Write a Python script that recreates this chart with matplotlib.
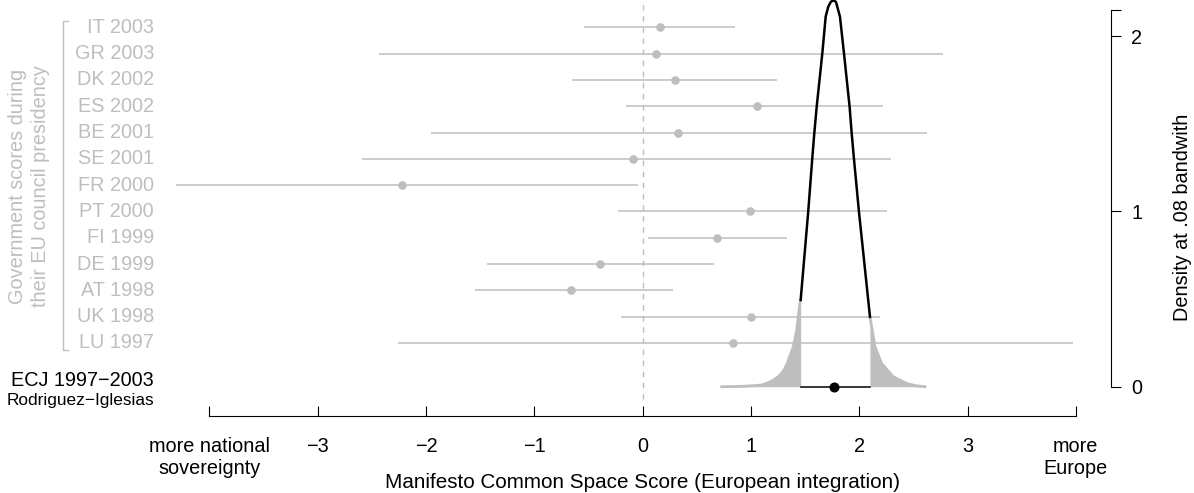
import numpy as np
import matplotlib
matplotlib.use("Agg")
import matplotlib.pyplot as plt

plt.rcParams['font.family'] = ['Liberation Sans', 'DejaVu Sans']

## Government positions during their EU council presidency (bottom row first)
labels = ["LU 1997", "UK 1998", "AT 1998", "DE 1999", "FI 1999", "PT 2000", "FR 2000",
          "SE 2001", "BE 2001", "ES 2002", "DK 2002", "GR 2003", "IT 2003"]
est = [0.835, 1.00, -0.66, -0.39, 0.69, 0.99, -2.22, -0.085, 0.33, 1.055, 0.30, 0.127, 0.16]
lo = [-2.26, -0.20, -1.55, -1.44, 0.05, -0.23, -4.31, -2.59, -1.955, -0.15, -0.65, -2.43, -0.54]
hi = [3.97, 2.19, 0.28, 0.655, 1.335, 2.26, -0.045, 2.29, 2.63, 2.22, 1.24, 2.77, 0.85]

## ECJ (Rodriguez-Iglesias) estimate and interval
ecj_est = 1.763
ecj_lo = 1.459
ecj_hi = 2.099

## density curve
dens_x = [0.73, 0.95, 1.10, 1.145, 1.20, 1.252, 1.30, 1.335, 1.391, 1.422, 1.45, 1.459,
          1.529, 1.566, 1.585, 1.607, 1.659, 1.690, 1.714, 1.737, 1.762, 1.785, 1.797,
          1.822, 1.859, 1.911, 1.930, 1.951, 1.997, 2.099, 2.145, 2.207, 2.314, 2.438,
          2.52, 2.607]
dens_y = [0.0, 0.003, 0.01, 0.019, 0.035, 0.057, 0.09, 0.133, 0.228, 0.323, 0.47, 0.495,
          1.0, 1.301, 1.446, 1.597, 1.902, 2.111, 2.168, 2.195, 2.205, 2.195, 2.168,
          2.111, 1.902, 1.597, 1.446, 1.301, 1.0, 0.399, 0.228, 0.133, 0.057, 0.019,
          0.006, 0.0]

xtick_pos = [-4, -3, -2, -1, 0, 1, 2, 3, 4]
xtick_lab = ["more national\nsovereignty", "\u22123", "\u22122", "\u22121", "0", "1", "2", "3",
             "more\nEurope"]
ytick_pos = [0, 1, 2, 2.15]
ytick_lab = ["0", "1", "2", ""]

GRAY = "#BEBEBE"
FS = 14.3

fig = plt.figure(figsize=(11.94, 4.93), dpi=100)
ax = fig.add_axes([0, 0, 1, 1])
ax.set_xlim(-5.934, 5.091)
ax.set_ylim(-0.606, 2.206)
ax.patch.set_visible(False)

## rows
rows = 0.25 + 0.15 * np.arange(len(labels))
ax.axvline(0, ymin=0.19, ymax=1, color=GRAY, lw=1, ls=(0, (4, 4)))
ax.hlines(rows, lo, hi, color=GRAY, lw=1.1)
ax.plot(est, rows, 'o', color=GRAY, ms=6.2, mec='none')
for lab, yy in zip(labels, rows):
    ax.text(-4.512, yy, lab, ha='right', va='center', color=GRAY, fontsize=FS)

## bracket + group title
ax.plot([-5.306, -5.349, -5.349, -5.306], [2.088, 2.088, 0.209, 0.209], color=GRAY, lw=1)
ax.text(-5.665, 1.145, "Government scores during\ntheir EU council presidency",
        rotation=90, ha='center', va='center', color=GRAY, fontsize=FS,
        multialignment='center', linespacing=1.25)

## ECJ density
dx = np.array(dens_x)
dy = np.array(dens_y)
left = dx <= ecj_lo
right = dx >= ecj_hi
mid = (dx >= ecj_lo) & (dx <= ecj_hi)
ax.fill_between(dx[left], 0, dy[left], color=GRAY, lw=0)
ax.fill_between(dx[right], 0, dy[right], color=GRAY, lw=0)
ax.plot(dx[left], dy[left], color=GRAY, lw=2)
ax.plot(dx[right], dy[right], color=GRAY, lw=2)
ax.plot(dx[mid], dy[mid], color='black', lw=1.8)
ax.plot([ecj_lo, ecj_hi], [0, 0], color='black', lw=1.1)
ax.plot([ecj_est], [0], 'o', color='black', ms=6.2)

ax.text(-4.512, 0.033, "ECJ 1997\u22122003", ha='right', va='center', fontsize=FS)
ax.text(-4.512, -0.076, "Rodriguez\u2212Iglesias", ha='right', va='center', fontsize=12.4)

## axes
ax.spines['top'].set_visible(False)
ax.spines['left'].set_visible(False)
ax.spines['bottom'].set_position(('data', -0.165))
ax.spines['bottom'].set_bounds(-4, 4)
ax.spines['right'].set_position(('data', 4.324))
ax.spines['right'].set_bounds(0, 2.15)
ax.spines['bottom'].set_linewidth(0.8)
ax.spines['right'].set_linewidth(0.8)

ax.set_xticks(xtick_pos)
ax.set_xticklabels(xtick_lab)
ax.tick_params(axis='x', direction='in', length=7.2, width=0.8, pad=15, labelsize=FS)
ax.yaxis.tick_right()
ax.set_yticks(ytick_pos)
ax.set_yticklabels(ytick_lab)
ax.tick_params(axis='y', direction='out', length=7.5, width=0.8, pad=7, labelsize=FS)

ax.set_xlabel("Manifesto Common Space Score (European integration)", fontsize=14.9)
ax.xaxis.set_label_coords(0.538, 0.0203)
ax.xaxis.label.set_va('center')
ax.set_ylabel("Density at .08 bandwith", fontsize=FS)
ax.yaxis.set_label_position('right')
ax.yaxis.set_label_coords(0.99, 0.56)
ax.yaxis.label.set_rotation(90)
ax.yaxis.label.set_va('center')
ax.yaxis.label.set_ha('center')

fig.savefig("out.png", dpi=100)
